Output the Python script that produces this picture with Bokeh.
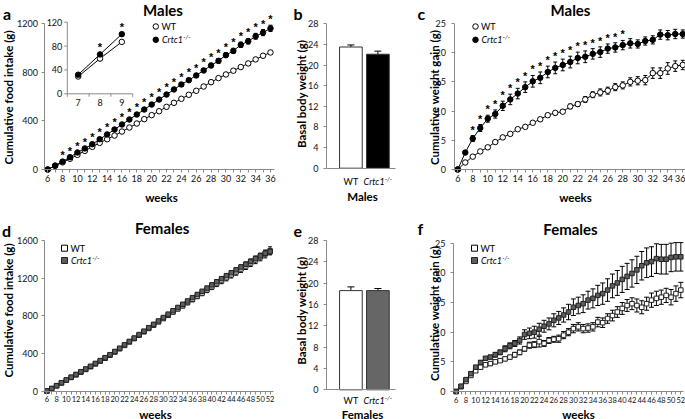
import math
from bokeh.plotting import figure
from bokeh.layouts import row, column
from bokeh.models import Range1d, FixedTicker, Label, Whisker, TeeHead, ColumnDataSource
from bokeh.core.properties import value
from bokeh.embed import file_html
from bokeh.resources import INLINE

# ---------------- data ----------------
weeks_m = list(range(6, 37))
food_m_wt = [0, 30, 59, 88, 120, 153, 186, 219, 249, 279, 312, 345, 378, 414, 447, 479,
             515, 548, 581, 614, 647, 682, 718, 751, 781, 812, 842, 872, 905, 935, 962]
food_m_wt_err = [0, 1, 2, 2, 3, 3, 4, 4, 5, 5, 6, 6, 7, 7, 8, 8, 9, 9, 10, 10, 11, 11,
                 12, 12, 13, 13, 14, 14, 15, 15, 16]
food_m_ko = [0, 32, 65, 101, 140, 173, 208, 249, 288, 329, 370, 411, 452, 493, 534, 575,
             616, 658, 699, 734, 773, 814, 855, 893, 940, 975, 1025, 1054, 1095, 1125, 1160]
food_m_ko_err = [0, 2, 3, 4, 5, 5, 6, 7, 8, 8, 9, 10, 10, 11, 12, 13, 13, 14, 15, 16, 16,
                 17, 18, 19, 20, 21, 22, 23, 24, 25, 26]
stars_food_m = list(range(8, 37))

inset_weeks = [7, 8, 9]
inset_wt = [29, 59, 87]
inset_ko = [32, 66, 100]
inset_stars = [8, 9]
inset_yticks = [0, 40, 80, 120]

groups = ["WT", "Crtc1"]
bw_m = [23.5, 22.1]
bw_m_err = [0.4, 0.6]

gain_m_wt = [0, 1.2, 2.2, 3.1, 3.8, 4.7, 5.5, 6.1, 6.9, 7.3, 8.0, 8.6, 9.3, 9.7, 9.9, 10.8,
             11.2, 12.0, 12.8, 13.2, 13.5, 14.1, 14.4, 15.0, 15.2, 15.3, 16.5, 16.5, 17.3,
             17.7, 17.9]
gain_m_wt_err = [0, 0.1, 0.15, 0.15, 0.2, 0.2, 0.2, 0.2, 0.2, 0.2, 0.2, 0.3, 0.3, 0.3, 0.3,
                 0.4, 0.4, 0.5, 0.5, 0.6, 0.6, 0.6, 0.6, 0.7, 0.7, 0.8, 0.9, 0.9, 1.0, 0.9, 0.8]
gain_m_ko = [0, 2.9, 5.3, 7.1, 8.7, 9.5, 10.9, 12.0, 13.0, 14.1, 15.1, 15.7, 16.7, 17.4,
             17.9, 18.4, 19.1, 19.3, 19.8, 20.1, 20.7, 20.9, 21.3, 21.6, 21.5, 22.0, 22.2,
             23.1, 23.0, 23.2, 23.2]
gain_m_ko_err = [0, 0.3, 0.5, 0.6, 0.6, 0.7, 0.8, 0.9, 0.9, 0.9, 1.0, 1.0, 1.0, 1.0, 1.0,
                 1.0, 1.0, 1.0, 0.9, 0.9, 0.8, 0.8, 0.8, 0.8, 0.7, 0.7, 0.7, 0.8, 0.8, 0.8, 0.7]
stars_gain_m = list(range(8, 29))

weeks_f = list(range(6, 53))
food_f_wt = [0, 25, 55, 85, 115, 144, 172, 200, 229, 258, 288, 318, 348, 380, 414, 449,
             485, 521, 557, 593, 629, 665, 700, 735, 770, 805, 840, 874, 907, 941, 975,
             1009, 1042, 1076, 1109, 1142, 1174, 1205, 1236, 1267, 1298, 1330, 1362, 1394,
             1425, 1457, 1490]
food_f_wt_err = [0, 2, 3, 3, 4, 5, 5, 6, 7, 7, 8, 9, 9, 10, 11, 12, 12, 13, 14, 15, 16, 17,
                 18, 19, 20, 21, 22, 23, 24, 25, 27, 28, 29, 30, 31, 32, 33, 34, 35, 36, 37,
                 38, 39, 40, 41, 42, 43]
food_f_ko = [0, 27, 57, 88, 118, 147, 176, 205, 234, 263, 293, 323, 354, 386, 420, 455,
             491, 527, 563, 600, 636, 673, 709, 745, 781, 817, 853, 888, 922, 957, 992,
             1026, 1060, 1094, 1128, 1161, 1194, 1226, 1257, 1288, 1318, 1348, 1378, 1408,
             1437, 1465, 1482]
food_f_ko_err = [0, 1, 2, 2, 3, 3, 4, 4, 5, 5, 6, 6, 7, 7, 8, 8, 9, 9, 10, 10, 11, 11, 12,
                 12, 13, 13, 14, 14, 15, 15, 16, 17, 17, 18, 18, 19, 20, 20, 21, 21, 22, 23,
                 23, 24, 24, 25, 25]

bw_f = [18.6, 18.6]
bw_f_err = [0.7, 0.4]

gain_f_wt = [0, 0.8, 1.7, 2.7, 3.5, 4.1, 4.5, 4.7, 5.0, 5.2, 5.5, 5.8, 6.2, 6.6, 7.2, 7.8,
             7.9, 8.4, 8.1, 8.6, 8.8, 8.9, 9.5, 10.0, 10.6, 10.9, 10.6, 10.7, 10.9, 11.7,
             11.6, 12.3, 12.8, 13.4, 14.0, 14.5, 14.8, 14.5, 14.2, 14.8, 15.4, 15.7, 15.9,
             16.2, 15.9, 16.5, 17.1]
gain_f_wt_err = [0, 0.1, 0.2, 0.2, 0.3, 0.3, 0.3, 0.3, 0.3, 0.3, 0.3, 0.3, 0.4, 0.4, 0.4,
                 0.5, 0.5, 0.9, 0.5, 0.5, 0.5, 0.6, 0.6, 0.6, 0.7, 0.7, 0.7, 0.7, 0.7, 0.8,
                 0.8, 0.8, 0.9, 0.9, 1.0, 1.0, 1.0, 1.1, 1.1, 1.1, 1.2, 1.2, 1.2, 1.2, 1.3,
                 1.3, 1.3]
gain_f_ko = [0, 0.9, 2.0, 3.0, 4.1, 4.9, 5.6, 5.8, 6.2, 6.6, 7.2, 7.7, 8.1, 8.6, 9.6, 9.8,
             10.0, 10.5, 11.0, 11.4, 12.0, 12.4, 12.9, 13.4, 14.2, 14.5, 14.8, 15.4, 15.7,
             16.2, 16.5, 17.1, 17.8, 18.3, 18.9, 19.4, 19.9, 20.5, 21.2, 21.7, 21.9, 22.4,
             22.3, 22.3, 22.6, 22.7, 22.7]
gain_f_ko_err = [0, 0.2, 0.2, 0.3, 0.3, 0.3, 0.3, 0.3, 0.4, 0.4, 0.5, 0.5, 0.5, 0.6, 0.8,
                 0.9, 1.0, 1.0, 1.0, 1.0, 1.1, 1.1, 1.2, 1.3, 1.4, 1.4, 1.5, 1.5, 1.6, 1.7,
                 1.8, 1.9, 2.0, 2.1, 2.2, 2.2, 2.3, 2.3, 2.4, 2.5, 2.5, 2.5, 2.5, 2.5, 2.4,
                 2.4, 2.4]

# ---------------- layout helpers ----------------
FONT = "Lato"
STAR_FONT = "Liberation Sans"
AXIS = "#8a8a8a"
KO_GRAY = "#5e5e5e"
COLS = [0, 284, 405, 685]
ROWS = [0, 205, 419]


def make_fig(ci, ri, fl, frr, ft, fb, xd, yd):
    """Frame covers the whole canvas; the axes sit at fixed data locations."""
    ox, oy = COLS[ci], ROWS[ri]
    w, h = COLS[ci + 1] - ox, ROWS[ri + 1] - oy
    pl, pr = fl - ox, frr - ox
    pt, pb = ft - oy, fb - oy
    kx = (xd[1] - xd[0]) / (pr - pl)
    x0 = xd[0] - pl * kx
    ky = (yd[1] - yd[0]) / (pb - pt)
    y1 = yd[1] + pt * ky
    y0 = y1 - h * ky
    xr, yr = (x0, x0 + w * kx), (y0, y1)
    p = figure(width=w, height=h, x_range=Range1d(*xr), y_range=Range1d(*yr),
               output_backend="svg", toolbar_location=None, title_location=None,
               min_border=0, min_border_left=0, min_border_right=0,
               min_border_top=0, min_border_bottom=0)
    p.outline_line_color = None
    p.xgrid.visible = False
    p.ygrid.visible = False
    p.background_fill_color = "white"
    p.border_fill_color = "white"
    p.xaxis[0].fixed_location = yd[0]
    p.xaxis[0].bounds = xd
    p.yaxis[0].fixed_location = xd[0]
    p.yaxis[0].bounds = yd
    info = dict(ox=ox, oy=oy, w=w, h=h, xr=xr, yr=yr)
    return p, info


def ref2data(info, rx, ry):
    cx = rx - info["ox"]
    cy = ry - info["oy"]
    x0, x1 = info["xr"]
    y0, y1 = info["yr"]
    return x0 + cx / info["w"] * (x1 - x0), y1 - cy / info["h"] * (y1 - y0)


def txt(p, info, rx, ry, s, size, style="normal", angle=0.0, align="center",
        baseline="middle", color="black"):
    x, y = ref2data(info, rx, ry)
    p.add_layout(Label(x=x, y=y, text=s, text_font=FONT, text_font_size=f"{size}px",
                       text_font_style=style, angle=angle, text_align=align,
                       text_baseline=baseline, text_color=color))


def geno(p, info, rx, ry, size, center=False):
    w1 = 2.35 * size
    sup = 0.72 * size
    w2 = 1.15 * sup
    start = rx - (w1 + w2) / 2 if center else rx
    txt(p, info, start, ry, groups[1], size, "italic", align="left")
    txt(p, info, start + w1, ry - 0.33 * size, "-/-", round(sup, 1), "italic", align="left")


def style_axes(p, xt, xminor, yt, xfs="9px", yfs="9px", ystand=3, xstand=2):
    xa, ya = p.xaxis[0], p.yaxis[0]
    xa.ticker = FixedTicker(ticks=xt, minor_ticks=xminor)
    ya.ticker = FixedTicker(ticks=yt)
    for ax in (xa, ya):
        ax.axis_line_color = AXIS
        ax.major_tick_line_color = AXIS
        ax.minor_tick_line_color = AXIS
        ax.major_tick_in = 0
        ax.major_tick_out = 3
        ax.minor_tick_in = 0
        ax.minor_tick_out = 3
        ax.major_label_text_font = FONT
        ax.major_label_text_color = "#111111"
    ya.minor_tick_line_color = None
    xa.major_label_text_font_size = xfs
    ya.major_label_text_font_size = yfs
    ya.major_label_standoff = ystand
    xa.major_label_standoff = xstand


def series(p, x, y, err, marker, size, fill, line="black", head=4, **kw):
    p.line(x, y, line_color="black", line_width=1, **kw)
    src = ColumnDataSource(dict(x=x, lo=[a - b for a, b in zip(y, err)],
                                hi=[a + b for a, b in zip(y, err)]))
    p.add_layout(Whisker(source=src, base="x", lower="lo", upper="hi",
                         line_color="black", line_width=1,
                         upper_head=TeeHead(size=head, line_color="black", line_width=1),
                         lower_head=TeeHead(size=head, line_color="black", line_width=1)))
    p.scatter(x, y, marker=marker, size=size, fill_color=fill, line_color=line,
              line_width=1, **kw)


def stars(p, weeks, sel, y, err, offset=-6, size="11px", **kw):
    xs = [w for w in weeks if w in sel]
    ys = [y[weeks.index(w)] + err[weeks.index(w)] for w in xs]
    p.text(x=xs, y=ys, text=["*"] * len(xs), text_font=value(STAR_FONT),
           text_font_size=size, text_font_style="bold", text_align="center",
           text_baseline="middle", y_offset=offset, text_color="black", **kw)


def legend_marks(p, info, rx, ry1, ry2, marker, size, fill2, line2="black"):
    x1, y1 = ref2data(info, rx, ry1)
    x2, y2 = ref2data(info, rx, ry2)
    p.scatter([x1], [y1], marker=marker, size=size, fill_color="white",
              line_color="black", line_width=1)
    p.scatter([x2], [y2], marker=marker, size=size, fill_color=fill2,
              line_color=line2, line_width=1)


HALF_PI = math.pi / 2

# ---------------- panel a ----------------
pa, ia = make_fig(0, 0, 43.5, 273.7, 23, 169, (5.5, 36.5), (0, 1200))
style_axes(pa, list(range(6, 37, 2)), list(range(7, 37, 2)), [0, 400, 800, 1200])
series(pa, weeks_m, food_m_wt, food_m_wt_err, "circle", 5.5, "white")
series(pa, weeks_m, food_m_ko, food_m_ko_err, "circle", 5.5, "black")
stars(pa, weeks_m, stars_food_m, food_m_ko, food_m_ko_err, offset=-6)

# inset inside panel a, mapped through extra ranges
il, ir, it, ib = 66.8, 132.2, 21.7, 93.3
lx, rxp = il - ia["ox"], ir - ia["ox"]
ty, by = it - ia["oy"], ib - ia["oy"]
kx = 3.0 / (rxp - lx)
ky = 120.0 / (by - ty)
xs0 = 6.5 - lx * kx
ys1 = 120 + ty * ky
pa.extra_x_ranges = {"ix": Range1d(xs0, xs0 + ia["w"] * kx)}
pa.extra_y_ranges = {"iy": Range1d(ys1 - ia["h"] * ky, ys1)}
IR = dict(x_range_name="ix", y_range_name="iy")
pa.segment(x0=[6.5, 6.5], y0=[0, 0], x1=[6.5, 9.5], y1=[120, 0], line_color=AXIS, **IR)
pa.segment(x0=[6.5 - 3 * kx] * len(inset_yticks), y0=inset_yticks,
           x1=[6.5] * len(inset_yticks), y1=inset_yticks, line_color=AXIS, **IR)
pa.segment(x0=[6.5, 7.5, 8.5, 9.5], y0=[0] * 4, x1=[6.5, 7.5, 8.5, 9.5],
           y1=[-3 * ky] * 4, line_color=AXIS, **IR)
pa.text(x=[6.5] * len(inset_yticks), y=inset_yticks, text=[str(t) for t in inset_yticks],
        x_offset=-5, text_align="right", text_baseline="middle",
        text_font=value(FONT), text_font_size="9px", text_color="#111111", **IR)
pa.text(x=inset_weeks, y=[0] * 3, text=[str(t) for t in inset_weeks], y_offset=5,
        text_align="center", text_baseline="top", text_font=value(FONT),
        text_font_size="9px", text_color="#111111", **IR)
pa.line(inset_weeks, inset_wt, line_color="black", line_width=1, **IR)
pa.line(inset_weeks, inset_ko, line_color="black", line_width=1, **IR)
pa.scatter(inset_weeks, inset_wt, marker="circle", size=5.5, fill_color="white",
           line_color="black", **IR)
pa.scatter(inset_weeks, inset_ko, marker="circle", size=5.5, fill_color="black",
           line_color="black", **IR)
stars(pa, inset_weeks, inset_stars, inset_ko, [0, 0, 0], offset=-7, **IR)

txt(pa, ia, 2.5, 12.7, "a", 16, "bold", align="left", baseline="alphabetic")
txt(pa, ia, 162.5, 9, "Males", 15, "bold")
txt(pa, ia, 7.5, 97, "Cumulative food intake (g)", 11.5, "bold", angle=HALF_PI)
txt(pa, ia, 161, 196.5, "weeks", 11.5, "bold")
legend_marks(pa, ia, 155.3, 26, 39.3, "circle", 5.5, "black")
txt(pa, ia, 161, 26, "WT", 9, align="left")
geno(pa, ia, 161.5, 39.3, 9)

# ---------------- panel b ----------------
pb, ib_ = make_fig(1, 0, 326, 395, 23.3, 167.7, (0.096, 2.652), (0, 28))
style_axes(pb, [], [], [0, 4, 8, 12, 16, 20, 24, 28], ystand=5)
pb.vbar(x=[1, 2], top=bw_m, width=0.84, fill_color=["white", "black"],
        line_color="#333333", line_width=1)
srcb = ColumnDataSource(dict(x=[1, 2], lo=bw_m, hi=[a + b for a, b in zip(bw_m, bw_m_err)]))
pb.add_layout(Whisker(source=srcb, base="x", lower="lo", upper="hi", line_color="black",
                      upper_head=TeeHead(size=7, line_color="black"), lower_head=None))
txt(pb, ib_, 293, 12.7, "b", 16, "bold", align="left", baseline="alphabetic")
txt(pb, ib_, 300.5, 93.3, "Basal body weight (g)", 11.5, "bold", angle=HALF_PI)
txt(pb, ib_, 350.4, 180.5, groups[0], 9)
geno(pb, ib_, 377.4, 180.5, 9, center=True)
txt(pb, ib_, 362, 195.5, "Males", 11.5, "bold")

# ---------------- panel c ----------------
pc, ic = make_fig(2, 0, 453.5, 686, 23, 169, (5.5, 36.5), (0, 25))
style_axes(pc, list(range(6, 37, 2)), list(range(7, 37, 2)), [0, 5, 10, 15, 20, 25],
           ystand=5)
series(pc, weeks_m, gain_m_wt, gain_m_wt_err, "circle", 5.5, "white")
series(pc, weeks_m, gain_m_ko, gain_m_ko_err, "circle", 5.5, "black")
stars(pc, weeks_m, stars_gain_m, gain_m_ko, gain_m_ko_err, offset=-6)
txt(pc, ic, 417, 12.7, "c", 16, "bold", align="left", baseline="alphabetic")
txt(pc, ic, 570, 9, "Males", 15, "bold")
txt(pc, ic, 434, 97, "Cumulative weight gain (g)", 11.5, "bold", angle=HALF_PI)
txt(pc, ic, 575, 196.5, "weeks", 11.5, "bold")
legend_marks(pc, ic, 475, 26, 39.3, "circle", 5.5, "black")
txt(pc, ic, 480.5, 26, "WT", 9, align="left")
geno(pc, ic, 481, 39.3, 9)

# ---------------- panel d ----------------
pd_, id_ = make_fig(0, 1, 43.5, 272.5, 240, 390.5, (5.4, 52.6), (0, 1600))
style_axes(pd_, list(range(6, 53, 2)), list(range(7, 53, 2)), [0, 400, 800, 1200, 1600],
           xfs="7.5px", xstand=2)
series(pd_, weeks_f, food_f_wt, food_f_wt_err, "square", 4.5, "white", line="#222222", head=4)
series(pd_, weeks_f, food_f_ko, food_f_ko_err, "square", 4.5, KO_GRAY, line="#222222", head=4)
txt(pd_, id_, 1.5, 229.5, "d", 16, "bold", align="left", baseline="alphabetic")
txt(pd_, id_, 161.7, 227.7, "Females", 15, "bold")
txt(pd_, id_, 7.5, 310, "Cumulative food intake (g)", 11.5, "bold", angle=HALF_PI)
txt(pd_, id_, 155, 413.5, "weeks", 11.5, "bold")
legend_marks(pd_, id_, 64, 247.7, 260, "square", 6, KO_GRAY, "#222222")
txt(pd_, id_, 70, 247.7, "WT", 9, align="left")
geno(pd_, id_, 70.5, 260, 9)

# ---------------- panel e ----------------
pe, ie = make_fig(1, 1, 326, 395, 240, 389.3, (0.096, 2.652), (0, 28))
style_axes(pe, [], [], [0, 4, 8, 12, 16, 20, 24, 28], ystand=5)
pe.vbar(x=[1, 2], top=bw_f, width=0.84, fill_color=["white", "#666666"],
        line_color="#333333", line_width=1)
srce = ColumnDataSource(dict(x=[1, 2], lo=bw_f, hi=[a + b for a, b in zip(bw_f, bw_f_err)]))
pe.add_layout(Whisker(source=srce, base="x", lower="lo", upper="hi", line_color="black",
                      upper_head=TeeHead(size=7, line_color="black"), lower_head=None))
txt(pe, ie, 293, 230.5, "e", 16, "bold", align="left", baseline="alphabetic")
txt(pe, ie, 300.5, 310, "Basal body weight (g)", 11.5, "bold", angle=HALF_PI)
txt(pe, ie, 350.4, 399.5, groups[0], 9)
geno(pe, ie, 377.4, 399.5, 9, center=True)
txt(pe, ie, 362, 413.5, "Females", 11.5, "bold")

# ---------------- panel f ----------------
pf, if_ = make_fig(2, 1, 453, 683, 242.7, 391, (5.45, 52.55), (0, 25))
style_axes(pf, list(range(6, 53, 2)), list(range(7, 53, 2)), [0, 5, 10, 15, 20, 25],
           xfs="7.5px", ystand=5, xstand=2)
series(pf, weeks_f, gain_f_wt, gain_f_wt_err, "square", 4.5, "white", line="#222222", head=5)
series(pf, weeks_f, gain_f_ko, gain_f_ko_err, "square", 4.5, KO_GRAY, line="#222222", head=5)
txt(pf, if_, 417, 227.5, "f", 16, "bold", align="left", baseline="alphabetic")
txt(pf, if_, 570, 228.3, "Females", 15, "bold")
txt(pf, if_, 434, 313, "Cumulative weight gain (g)", 11.5, "bold", angle=HALF_PI)
txt(pf, if_, 578, 413.5, "weeks", 11.5, "bold")
legend_marks(pf, if_, 474, 247.7, 260, "square", 6, KO_GRAY, "#222222")
txt(pf, if_, 480, 247.7, "WT", 9, align="left")
geno(pf, if_, 480.5, 260, 9)

layout = column(row(pa, pb, pc, spacing=0), row(pd_, pe, pf, spacing=0), spacing=0)
open("out.html", "w").write(file_html(layout, INLINE))
